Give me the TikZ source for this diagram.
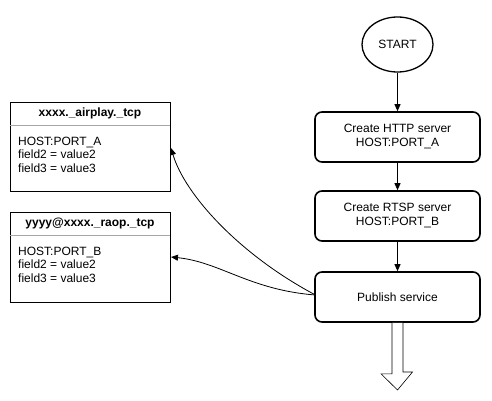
\documentclass[tikz,border=0pt]{standalone}
\usepackage{fontspec}
\setmainfont{Liberation Sans}
\usetikzlibrary{arrows.meta,shapes.geometric}
\begin{document}
\begin{tikzpicture}[x=1pt,y=-1pt,
  stepbox/.style={draw,line width=1.6pt,rounded corners=7pt,minimum width=165pt,minimum height=50pt,align=center,font=\fontsize{12}{14}\selectfont},
  recbox/.style={draw,line width=0.8pt,minimum width=160pt,anchor=north west},
  arr/.style={-{Triangle[length=7pt,width=6pt]},line width=0.9pt},
  txt/.style={font=\fontsize{12}{14}\selectfont,inner sep=0pt}]
\useasboundingbox (0,0) rectangle (492,401);
% start
\node[draw,ellipse,line width=1.3pt,minimum width=71pt,minimum height=55pt,font=\fontsize{12}{14}\selectfont] (start) at (397.5,44.5) {START};
\node[stepbox] (http) at (397.5,137) {Create HTTP server\\HOST:PORT\_A};
\node[stepbox] (rtsp) at (397.5,216) {Create RTSP server\\HOST:PORT\_B};
\node[stepbox] (pub) at (397.5,297) {Publish service};
\draw[arr] (start) -- (http);
\draw[arr] (http) -- (rtsp);
\draw[arr] (rtsp) -- (pub);
% hollow arrow
\coordinate (hb) at (pub.south);
\draw[line width=0.6pt,fill=white] ([xshift=-5.5pt]hb) -- ++(0,51) -- ++(-11,0) -- (397.5,390) -- (412.5,372) -- ++(-9.5,0) -- ([xshift=5.5pt]hb);
% left boxes
\node[recbox,minimum height=89pt] (a) at (10,102) {};
\draw[gray!70] (10,125) -- (170,125);
\node[txt,font=\fontsize{12}{14}\selectfont\bfseries] (ah) at (90,113.5) {xxxx.\_airplay.\_tcp};
\node[txt,anchor=north west,align=left,font=\fontsize{12}{13.8}\selectfont] (at) at (18,136.5) {HOST:PORT\_A\\field2 = value2\\field3 = value3};
\node[recbox,minimum height=90pt] (b) at (10,212) {};
\draw[gray!70] (10,235) -- (170,235);
\node[txt,font=\fontsize{12}{14}\selectfont\bfseries] (bh) at (90,223.5) {yyyy@xxxx.\_raop.\_tcp};
\node[txt,anchor=north west,align=left,font=\fontsize{12}{13.8}\selectfont] (bt) at (18,246.5) {HOST:PORT\_B\\field2 = value2\\field3 = value3};
% curves
\coordinate (ps) at (315.5,295);
\coordinate (ea) at (171,148);
\coordinate (eb) at (171,257);
\draw[arr,line width=0.8pt] (ps) .. controls (240,255) and (185,195) .. (ea);
\draw[arr,line width=0.8pt] (ps) .. controls (250,290) and (220,262) .. (eb);
\end{tikzpicture}
\end{document}
